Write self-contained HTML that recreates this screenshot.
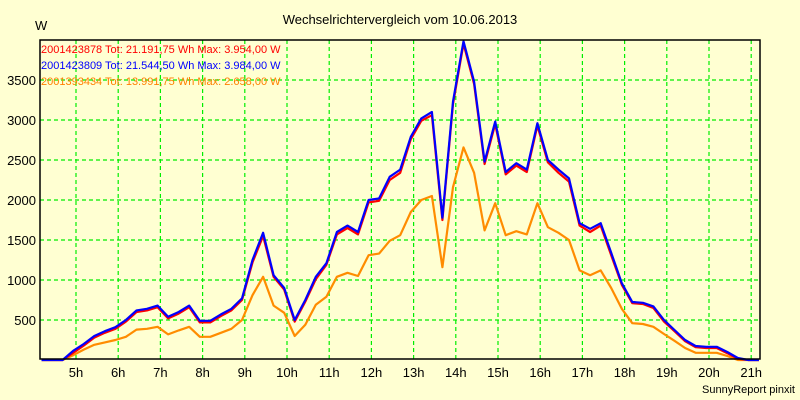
<!DOCTYPE html>
<html><head><meta charset="utf-8"><style>
body{margin:0;background:#ffffd2;}
svg{display:block;font-family:"Liberation Sans",sans-serif;}
</style></head><body>
<svg id="chart" width="800" height="400" viewBox="0 0 800 400" xmlns="http://www.w3.org/2000/svg">
<rect width="800" height="400" fill="#ffffd2"/>
<text x="400" y="24" text-anchor="middle" font-size="13" fill="#000">Wechselrichtervergleich vom 10.06.2013</text>
<text x="35" y="30" font-size="13" fill="#000">W</text>
<g id="grid"></g>
<g id="series"></g>
<rect x="40" y="40" width="720" height="319" fill="none" stroke="#000" stroke-width="1.5"/>
<g id="axes"></g>
<text x="41" y="53" font-size="11" fill="#ff0000">2001423878 Tot: 21.191,75 Wh Max: 3.954,00 W</text>
<text x="41" y="69" font-size="11" fill="#0000ff">2001423809 Tot: 21.544,50 Wh Max: 3.984,00 W</text>
<text x="41" y="85" font-size="11" fill="#ff8000">2001393434 Tot: 13.991,75 Wh Max: 2.658,00 W</text>
<text x="795" y="393" text-anchor="end" font-size="11" fill="#000">SunnyReport pinxit</text>
</svg>
<script>
const times = ["04:11","04:26","04:41","04:56","05:11","05:26","05:41","05:56","06:11","06:26","06:41","06:56","07:11","07:26","07:41","07:56","08:11","08:26","08:41","08:56","09:11","09:26","09:41","09:56","10:11","10:26","10:41","10:56","11:11","11:26","11:41","11:56","12:11","12:26","12:41","12:56","13:11","13:26","13:41","13:56","14:11","14:26","14:41","14:56","15:11","15:26","15:41","15:56","16:11","16:26","16:41","16:56","17:11","17:26","17:41","17:56","18:11","18:26","18:41","18:56","19:11","19:26","19:41","19:56","20:11","20:26","20:41","20:56","21:11"];
const blueValues = [0,0,0,115,200,300,360,410,500,620,640,680,540,600,680,490,490,570,640,770,1250,1590,1060,900,500,750,1040,1210,1600,1680,1600,2000,2020,2290,2380,2790,3020,3100,1780,3230,3984,3480,2480,2980,2350,2460,2380,2960,2500,2380,2270,1710,1640,1710,1340,960,725,715,670,500,375,250,175,165,165,100,25,0,0];
const redValues = [0,0,0,90,180,280,340,390,480,600,620,660,520,580,660,470,470,550,620,750,1220,1550,1040,880,480,730,1010,1190,1570,1650,1570,1970,1990,2250,2340,2760,2990,3060,1750,3200,3954,3450,2450,2950,2320,2430,2350,2930,2470,2340,2230,1680,1600,1680,1310,940,710,700,650,480,360,235,160,150,150,85,15,0,0];
const orangeValues = [0,0,0,60,130,190,220,250,290,380,390,415,320,370,415,290,290,340,390,500,810,1040,680,590,300,440,690,790,1040,1090,1050,1310,1330,1490,1560,1850,2000,2050,1160,2160,2658,2340,1620,1960,1560,1610,1570,1960,1660,1590,1500,1120,1060,1120,900,640,460,450,415,325,240,150,90,90,90,50,0,0,0];
const xTickLabels = ["5h","6h","7h","8h","9h","10h","11h","12h","13h","14h","15h","16h","17h","18h","19h","20h","21h"];
const yTickValues = [500,1000,1500,2000,2500,3000,3500];

const NS="http://www.w3.org/2000/svg";
function hours(t){const p=t.split(":");return +p[0]+ +p[1]/60;}
function xScale(h){return 76+(h-5)*42.2;}
function yScale(v){return 360-v*0.08;}
function mk(tag,attrs,parent){const e=document.createElementNS(NS,tag);for(const k in attrs)e.setAttribute(k,attrs[k]);parent.appendChild(e);return e;}
const grid=document.getElementById('grid'),axes=document.getElementById('axes'),series=document.getElementById('series');
xTickLabels.forEach(l=>{
  const x=xScale(parseInt(l));
  const g=mk('line',{x1:x,x2:x,y1:40,y2:359,stroke:'#00ee00','stroke-width':1.2,'stroke-dasharray':'4,3'},grid);
  
  
  const t=mk('text',{x:x,y:377,'text-anchor':'middle','font-size':13,fill:'#000'},axes);
  t.textContent=l;
  
  
});
yTickValues.forEach(v=>{
  const y=yScale(v);
  const g=mk('line',{x1:40,x2:760,y1:y,y2:y,stroke:'#00ee00','stroke-width':1.2,'stroke-dasharray':'4,3'},grid);
  
  
  const t=mk('text',{x:36,y:y+5,'text-anchor':'end','font-size':13,fill:'#000'},axes);
  t.textContent=v;
  
  
});
function drawLine(vals,color,name){
  const pts=vals.map((v,i)=>xScale(hours(times[i])).toFixed(1)+','+yScale(v).toFixed(1)).join(' ');
  const p=mk('polyline',{points:pts,fill:'none',stroke:color,'stroke-width':2.2,'stroke-linejoin':'round'},series);
  
  
}
drawLine(orangeValues,'#ff8c00','line-2001393434');
drawLine(redValues,'#ff0000','line-2001423878');
drawLine(blueValues,'#0000ff','line-2001423809');
</script>
</body></html>
